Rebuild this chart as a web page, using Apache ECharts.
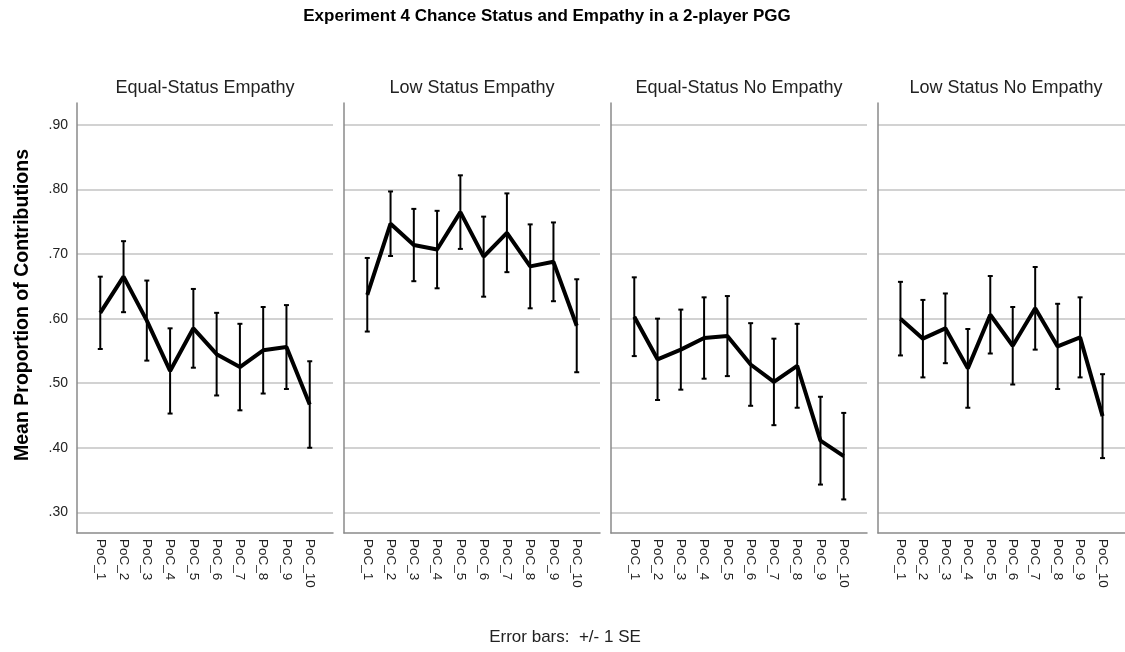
<!DOCTYPE html>
<html>
<head>
<meta charset="utf-8">
<title>Experiment 4 Chance Status and Empathy in a 2-player PGG</title>
<script src="https://cdn.jsdelivr.net/npm/echarts@6/dist/echarts.min.js"></script>
<style>
  html, body { margin: 0; padding: 0; background: #fff; }
  #chart { width: 1125px; height: 652px; }
</style>
</head>
<body>
<div id="chart"></div>
<script>
// Rounds of the public goods game, shown on every panel's x axis
const CATEGORIES = ['PoC_1', 'PoC_2', 'PoC_3', 'PoC_4', 'PoC_5', 'PoC_6', 'PoC_7', 'PoC_8', 'PoC_9', 'PoC_10'];

// Panel (condition) names
const PANELS = ['Equal-Status Empathy', 'Low Status Empathy', 'Equal-Status No Empathy', 'Low Status No Empathy'];

// Mean proportion of contributions per round, and its standard error
const MEAN_EQUAL_EMPATHY = [0.609, 0.665, 0.597, 0.519, 0.585, 0.545, 0.525, 0.551, 0.556, 0.467];
const SE_EQUAL_EMPATHY   = [0.056, 0.055, 0.062, 0.066, 0.061, 0.064, 0.067, 0.067, 0.065, 0.067];

const MEAN_LOW_EMPATHY = [0.637, 0.747, 0.714, 0.707, 0.765, 0.696, 0.733, 0.681, 0.688, 0.589];
const SE_LOW_EMPATHY   = [0.057, 0.050, 0.056, 0.060, 0.057, 0.062, 0.061, 0.065, 0.061, 0.072];

const MEAN_EQUAL_NO_EMPATHY = [0.603, 0.537, 0.552, 0.570, 0.573, 0.529, 0.502, 0.527, 0.411, 0.387];
const SE_EQUAL_NO_EMPATHY   = [0.061, 0.063, 0.062, 0.063, 0.062, 0.064, 0.067, 0.065, 0.068, 0.067];

const MEAN_LOW_NO_EMPATHY = [0.600, 0.569, 0.585, 0.523, 0.606, 0.558, 0.616, 0.557, 0.571, 0.449];
const SE_LOW_NO_EMPATHY   = [0.057, 0.060, 0.054, 0.061, 0.060, 0.060, 0.064, 0.066, 0.062, 0.065];

// Y axis tick values (proportions)
const Y_TICKS = [0.30, 0.40, 0.50, 0.60, 0.70, 0.80, 0.90];

const MEANS = [MEAN_EQUAL_EMPATHY, MEAN_LOW_EMPATHY, MEAN_EQUAL_NO_EMPATHY, MEAN_LOW_NO_EMPATHY];
const SES = [SE_EQUAL_EMPATHY, SE_LOW_EMPATHY, SE_EQUAL_NO_EMPATHY, SE_LOW_NO_EMPATHY];

const FONT = "'Liberation Sans', Arial, Helvetica, sans-serif";
const PANEL_LEFT = [77, 344, 611, 878];
const PANEL_WIDTH = 256;
const PANEL_TOP = 103;
const PANEL_HEIGHT = 430;

const chart = echarts.init(document.getElementById('chart'), null, { renderer: 'canvas' });

function yLabel(v) {
  const hit = Y_TICKS.some(t => Math.abs(t - v) < 1e-6);
  return hit ? v.toFixed(2).replace(/^0/, '') : '';
}

const grids = [], xAxes = [], yAxes = [], series = [], graphics = [];

PANELS.forEach((name, p) => {
  grids.push({ left: PANEL_LEFT[p], top: PANEL_TOP, width: PANEL_WIDTH, height: PANEL_HEIGHT, containLabel: false });

  xAxes.push({
    type: 'value', gridIndex: p, min: 0, max: CATEGORIES.length + 1, interval: 1,
    axisLine: { show: true, lineStyle: { color: '#8a8a8a', width: 1.5 } },
    axisTick: { show: false },
    splitLine: { show: false },
    axisLabel: {
      rotate: -90, margin: 6, fontFamily: FONT, fontSize: 13.5, color: '#222',
      formatter: v => CATEGORIES[v - 1] || ''
    }
  });

  yAxes.push({
    type: 'value', gridIndex: p, min: 0.268, max: 0.934, splitNumber: 6,
    axisLine: { show: true, lineStyle: { color: '#8a8a8a', width: 1.5 } },
    axisTick: { show: false },
    splitLine: { show: true, showMinLine: false, showMaxLine: false, lineStyle: { color: '#d2d2d2', width: 2 } },
    axisLabel: { show: p === 0, margin: 9, fontFamily: FONT, fontSize: 14, color: '#222', formatter: yLabel }
  });

  const mean = MEANS[p], se = SES[p];

  series.push({
    type: 'line', xAxisIndex: p, yAxisIndex: p, name: name,
    data: mean.map((m, i) => [i + 1, m]),
    symbol: 'none', silent: true, z: 3,
    lineStyle: { color: '#000', width: 4 }
  });

  series.push({
    type: 'custom', xAxisIndex: p, yAxisIndex: p, silent: true, z: 4,
    data: mean.map((m, i) => [i + 1, m - se[i], m + se[i]]),
    encode: { x: 0, y: [1, 2] },
    renderItem: (params, api) => {
      const x = api.value(0);
      const top = api.coord([x, api.value(2)]);
      const bot = api.coord([x, api.value(1)]);
      const hw = 2.5;
      const st = { stroke: '#000', lineWidth: 2 };
      return {
        type: 'group',
        children: [
          { type: 'line', shape: { x1: top[0], y1: top[1], x2: bot[0], y2: bot[1] }, style: st },
          { type: 'line', shape: { x1: top[0] - hw, y1: top[1], x2: top[0] + hw, y2: top[1] }, style: st },
          { type: 'line', shape: { x1: bot[0] - hw, y1: bot[1], x2: bot[0] + hw, y2: bot[1] }, style: st }
        ]
      };
    }
  });

  graphics.push({
    type: 'text', x: PANEL_LEFT[p] + PANEL_WIDTH / 2, y: 88,
    style: { text: name, font: '18px ' + FONT, fill: '#222', textAlign: 'center', textVerticalAlign: 'middle' }
  });
});

// Main title, y axis title and footnote
graphics.push({
  type: 'text', x: 547, y: 16,
  style: { text: 'Experiment 4 Chance Status and Empathy in a 2-player PGG', font: 'bold 17px ' + FONT, fill: '#000', textAlign: 'center', textVerticalAlign: 'middle' }
});
graphics.push({
  type: 'text', x: 23, y: 305, rotation: Math.PI / 2,
  style: { text: 'Mean Proportion of Contributions', font: 'bold 19.5px ' + FONT, fill: '#000', textAlign: 'center', textVerticalAlign: 'middle' }
});
graphics.push({
  type: 'text', x: 565, y: 637,
  style: { text: 'Error bars:  +/- 1 SE', font: '17px ' + FONT, fill: '#222', textAlign: 'center', textVerticalAlign: 'middle' }
});

chart.setOption({
  backgroundColor: '#fff',
  animation: false,
  grid: grids,
  xAxis: xAxes,
  yAxis: yAxes,
  series: series,
  graphic: graphics
});
</script>
</body>
</html>
